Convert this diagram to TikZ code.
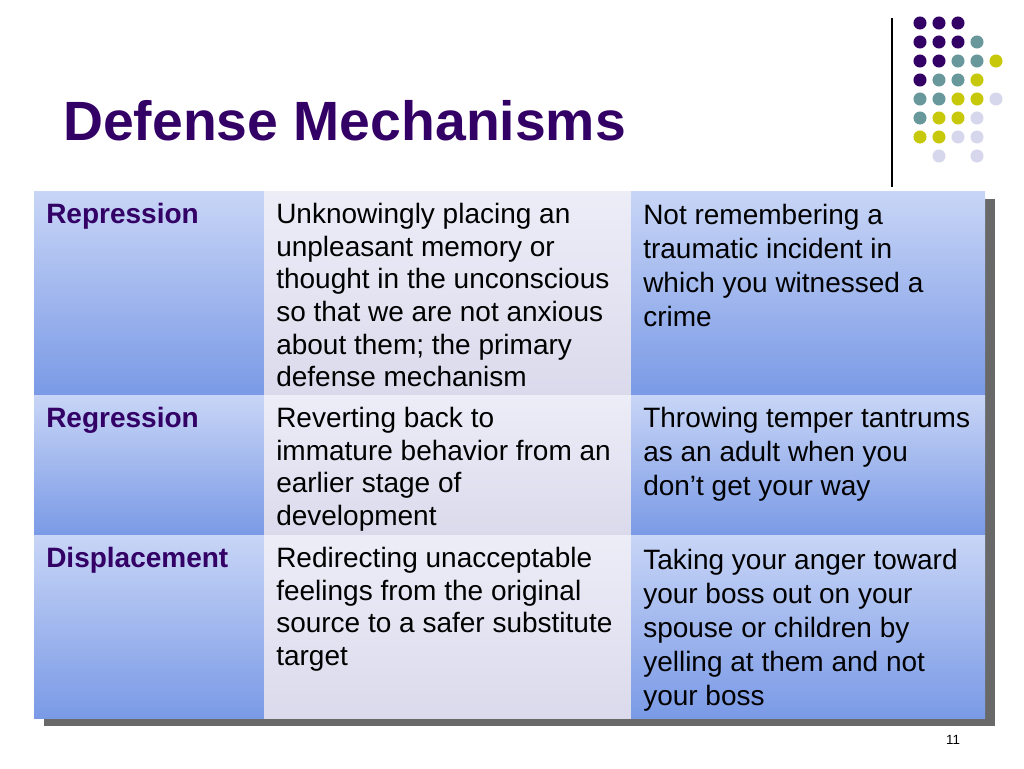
\documentclass[tikz,border=0pt]{standalone}
\usepackage{fontspec}
\setmainfont{Liberation Sans}
\definecolor{titlepurple}{RGB}{51,0,102}
\definecolor{dotteal}{RGB}{104,152,155}
\definecolor{dotyellow}{RGB}{200,200,10}
\definecolor{dotlilac}{RGB}{214,214,236}
\definecolor{celltop}{RGB}{200,213,246}
\definecolor{cellbot}{RGB}{122,154,230}
\definecolor{paletop}{RGB}{237,237,248}
\definecolor{palebot}{RGB}{218,218,236}
\definecolor{shadowgray}{RGB}{105,105,105}
\tikzset{
  bluecell/.style={top color=celltop, bottom color=cellbot},
  palecell/.style={top color=paletop, bottom color=palebot},
  celltext/.style={anchor=north west, align=left, inner sep=0pt, font=\fontsize{21}{24.5}\selectfont},
  wordtext/.style={celltext, text=titlepurple, font=\fontsize{21}{24.5}\selectfont\bfseries},
  exampletext/.style={celltext, font=\fontsize{21}{25.5}\selectfont},
}
\begin{document}
\begin{tikzpicture}[x=0.75pt, y=-0.75pt]
    \useasboundingbox (0,0) rectangle (1024,768);
    % title and the rule beside the dots
    \node[anchor=base west, inner sep=0pt, text=titlepurple, font=\fontsize{41.5}{48}\selectfont\bfseries] (title) at (63,140) {Defense Mechanisms};
    \coordinate (ruletop) at (892,18);
    \coordinate (rulebot) at (892,187);
    \draw[line width=0.8pt] (ruletop) -- (rulebot);
    \foreach \c/\r/\clr in {0/0/titlepurple, 1/0/titlepurple, 2/0/titlepurple,
        0/1/titlepurple, 1/1/titlepurple, 2/1/titlepurple, 3/1/dotteal,
        0/2/titlepurple, 1/2/titlepurple, 2/2/dotteal, 3/2/dotteal, 4/2/dotyellow,
        0/3/titlepurple, 1/3/dotteal, 2/3/dotteal, 3/3/dotyellow,
        0/4/dotteal, 1/4/dotteal, 2/4/dotyellow, 3/4/dotyellow, 4/4/dotlilac,
        0/5/dotteal, 1/5/dotyellow, 2/5/dotyellow, 3/5/dotlilac,
        0/6/dotyellow, 1/6/dotyellow, 2/6/dotlilac, 3/6/dotlilac,
        1/7/dotlilac, 3/7/dotlilac}{
        \fill[\clr] ({920+19*\c},{23+19*\r}) circle (4.9pt);
    }
    % table with its shadow
    \fill[shadowgray] (44,199) rectangle (995,726);
    \foreach \ya/\yb in {191/395, 395/535, 535/718}{
        \shade[bluecell] (34,\ya) rectangle (264,\yb);
        \shade[palecell] (264,\ya) rectangle (631,\yb);
        \shade[bluecell] (631,\ya) rectangle (985,\yb);
    }
    % row 1
    \node[wordtext] (repword) at (46,203) {Repression};
    \node[celltext] (repdef) at (276,203) {Unknowingly placing an\\unpleasant memory or\\thought in the unconscious\\so that we are not anxious\\about them; the primary\\defense mechanism};
    \node[exampletext] (repex) at (643,204) {Not remembering a\\traumatic incident in\\which you witnessed a\\crime};
    % row 2
    \node[wordtext] (regword) at (46,407) {Regression};
    \node[celltext] (regdef) at (276,407) {Reverting back to\\immature behavior from an\\earlier stage of\\development};
    \node[exampletext] (regex) at (643,407) {Throwing temper tantrums\\as an adult when you\\don’t get your way};
    % row 3
    \node[wordtext] (disword) at (46,547) {Displacement};
    \node[celltext] (disdef) at (276,547) {Redirecting unacceptable\\feelings from the original\\source to a safer substitute\\target};
    \node[exampletext] (disex) at (643,549) {Taking your anger toward\\your boss out on your\\spouse or children by\\yelling at them and not\\your boss};
    \node[font=\fontsize{10}{12}\selectfont] (pagenum) at (953,740) {11};
\end{tikzpicture}
\end{document}
